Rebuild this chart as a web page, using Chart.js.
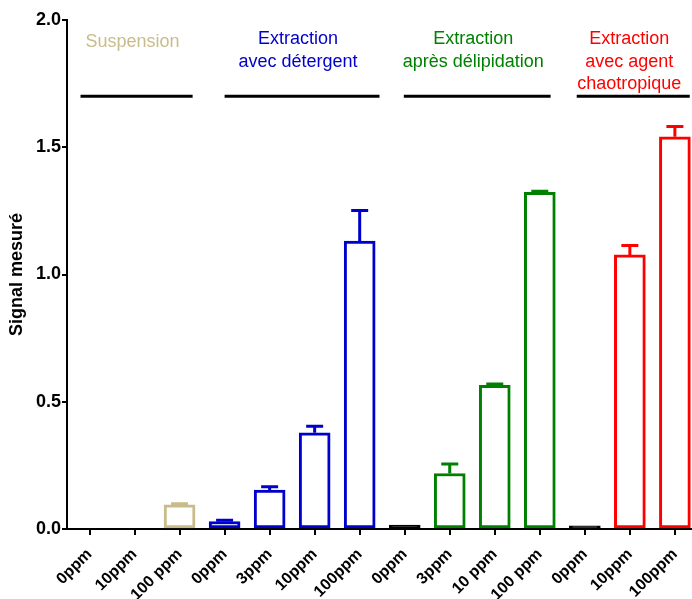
<!DOCTYPE html>
<html>
<head>
<meta charset="utf-8">
<script src="https://cdn.jsdelivr.net/npm/chart.js@4.4.0/dist/chart.umd.min.js"></script>
<style>
    html, body { margin: 0; padding: 0; background: #fff; }
    #wrap { width: 692px; height: 599px; }
</style>
</head>
<body>
<div id="wrap"><canvas id="chart"></canvas></div>
<script>
// Données
const labels = ['0ppm', '10ppm', '100 ppm', '0ppm', '3ppm', '10ppm', '100ppm', '0ppm', '3ppm', '10 ppm', '100 ppm', '0ppm', '10ppm', '100ppm'];
const means = [0, 0, 0.095, 0.029, 0.153, 0.378, 1.131, 0.015, 0.218, 0.565, 1.323, 0.012, 1.077, 1.541];
const sems = [0, 0, 0.004, 0.005, 0.013, 0.026, 0.120, 0, 0.037, 0.005, 0.004, 0, 0.037, 0.041];
const yTicks = [0, 0.5, 1.0, 1.5, 2.0];

// Groupes (titres au-dessus des barres), bornes des traits en unités de catégorie
const groupNames = [['Suspension'], ['Extraction', 'avec détergent'], ['Extraction', 'après délipidation'], ['Extraction', 'avec agent', 'chaotropique']];
const groupFrom = [-0.2, 3.0, 6.98, 10.82];
const groupTo = [2.29, 6.44, 10.24, 13.33];
const groupLevel = 1.7;

const TAN = '#c8bd8a', BLUE = '#0000cc', GREEN = '#008000', RED = '#ff0000', BLACK = '#000000';
const groupColors = [TAN, BLUE, GREEN, RED];
const barColors = [TAN, TAN, TAN, BLUE, BLUE, BLUE, BLUE, BLACK, GREEN, GREEN, GREEN, BLACK, RED, RED];

const FONT = 'Arial, "Liberation Sans", sans-serif';
Chart.defaults.font.family = FONT;
Chart.defaults.color = '#000';

// Barres d'erreur (vers le haut seulement)
const errorBars = {
    id: 'errorBars',
    afterDatasetsDraw(chart) {
        const { ctx, scales: { x, y } } = chart;
        ctx.save();
        ctx.lineWidth = 3;
        means.forEach((m, i) => {
            if (!sems[i]) return;
            const px = x.getPixelForValue(i);
            const top = y.getPixelForValue(m + sems[i]);
            const base = y.getPixelForValue(m);
            ctx.strokeStyle = barColors[i];
            ctx.beginPath();
            ctx.moveTo(px, base);
            ctx.lineTo(px, top);
            ctx.moveTo(px - 8.5, top);
            ctx.lineTo(px + 8.5, top);
            ctx.stroke();
        });
        ctx.restore();
    }
};

// Traits et titres de groupes
const groupHeaders = {
    id: 'groupHeaders',
    afterDraw(chart) {
        const { ctx, scales: { x, y } } = chart;
        const ly = y.getPixelForValue(groupLevel);
        ctx.save();
        groupNames.forEach((lines, g) => {
            const x1 = x.getPixelForValue(groupFrom[g]);
            const x2 = x.getPixelForValue(groupTo[g]);
            ctx.strokeStyle = '#000';
            ctx.lineWidth = 3;
            ctx.beginPath();
            ctx.moveTo(x1, ly);
            ctx.lineTo(x2, ly);
            ctx.stroke();

            const cx = (x1 + x2) / 2 - 4;
            ctx.fillStyle = groupColors[g];
            ctx.font = '18px ' + FONT;
            ctx.textAlign = 'center';
            ctx.textBaseline = 'middle';
            const startY = lines.length === 1 ? ly - 54 : ly - 57;
            lines.forEach((t, k) => ctx.fillText(t, cx, startY + k * 22.5));
        });
        ctx.restore();
    }
};

new Chart(document.getElementById('chart'), {
    type: 'bar',
    data: {
        datasets: [{
            data: means.map((v, i) => ({ x: i, y: v })),
            backgroundColor: barColors.map(c => c === BLACK ? BLACK : '#fff'),
            borderColor: barColors,
            borderWidth: 3,
            borderSkipped: false,
            barThickness: 31
        }]
    },
    options: {
        responsive: true,
        maintainAspectRatio: false,
        animation: false,
        layout: { padding: { top: 20, right: 0, bottom: 0, left: 0 } },
        plugins: { legend: { display: false }, tooltip: { enabled: false } },
        scales: {
            x: {
                type: 'linear',
                offset: false,
                min: -0.5,
                max: 13.38,
                afterBuildTicks: s => { s.ticks = labels.map((_, i) => ({ value: i })); },
                afterFit: s => { s.height = 70; s.paddingLeft = 0; s.paddingRight = 0; },
                ticks: {
                    autoSkip: false,
                    minRotation: 45,
                    maxRotation: 45,
                    padding: 10,
                    font: { size: 16, weight: 'bold' },
                    callback: v => labels[v]
                },
                grid: { offset: false, drawOnChartArea: false, drawTicks: true, tickLength: 6, color: '#000', lineWidth: 2 },
                border: { color: '#000', width: 2 }
            },
            y: {
                min: 0,
                max: 2,
                afterBuildTicks: s => { s.ticks = yTicks.map(v => ({ value: v })); },
                afterFit: s => { s.width = 67; },
                ticks: {
                    padding: 1,
                    font: { size: 18, weight: 'bold' },
                    callback: v => v.toFixed(1)
                },
                grid: { drawOnChartArea: false, drawTicks: true, tickLength: 5, color: '#000', lineWidth: 2 },
                border: { color: '#000', width: 2 },
                title: {
                    display: true,
                    text: 'Signal mesuré',
                    font: { size: 18, weight: 'bold' },
                    padding: { top: 6, bottom: 0 }
                }
            }
        }
    },
    plugins: [errorBars, groupHeaders]
});
</script>
</body>
</html>
